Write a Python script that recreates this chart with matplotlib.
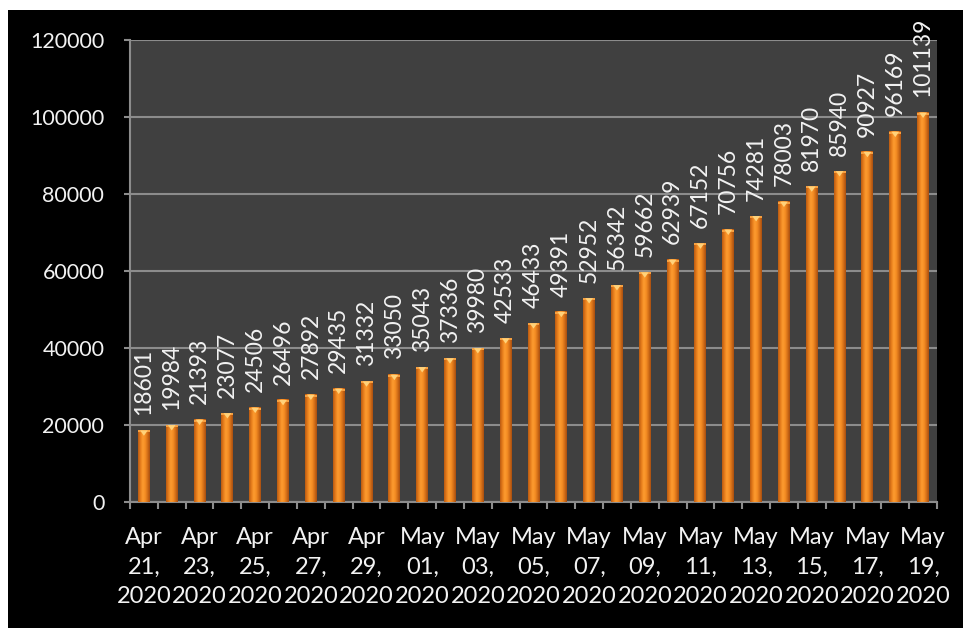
import matplotlib
matplotlib.use("Agg")
import matplotlib.pyplot as plt
import numpy as np
from matplotlib.colors import LinearSegmentedColormap
from matplotlib.patches import Rectangle, Polygon

plt.rcParams['font.family'] = ['Lato', 'DejaVu Sans']

# Daily cumulative totals, Apr 21 - May 19, 2020
dates = ["Apr 21, 2020", "Apr 22, 2020", "Apr 23, 2020", "Apr 24, 2020", "Apr 25, 2020",
         "Apr 26, 2020", "Apr 27, 2020", "Apr 28, 2020", "Apr 29, 2020", "Apr 30, 2020",
         "May 01, 2020", "May 02, 2020", "May 03, 2020", "May 04, 2020", "May 05, 2020",
         "May 06, 2020", "May 07, 2020", "May 08, 2020", "May 09, 2020", "May 10, 2020",
         "May 11, 2020", "May 12, 2020", "May 13, 2020", "May 14, 2020", "May 15, 2020",
         "May 16, 2020", "May 17, 2020", "May 18, 2020", "May 19, 2020"]
values = [18601, 19984, 21393, 23077, 24506, 26496, 27892, 29435, 31332, 33050,
          35043, 37336, 39980, 42533, 46433, 49391, 52952, 56342, 59662, 62939,
          67152, 70756, 74281, 78003, 81970, 85940, 90927, 96169, 101139]
y_ticks = [0, 20000, 40000, 60000, 80000, 100000, 120000]

W, H = 963, 628
fig = plt.figure(figsize=(W / 100, H / 100), dpi=100, facecolor="white")

# black panel behind the chart
fig.patches.append(Rectangle((8 / W, 0), 1, (H - 10) / H, transform=fig.transFigure,
                             facecolor="black", edgecolor="none", zorder=-10))

ax = fig.add_axes([130 / W, (H - 502) / H, (937 - 130) / W, (502 - 40) / H])
ax.set_facecolor("#404040")

grid_col = "#8c8c8c"
text_col = "#f2f2f2"

x = np.arange(len(values))
bar_w = 0.43

# cylinder-like shading across each bar
shade = LinearSegmentedColormap.from_list(
    "shade", ["#b95a12", "#e67c1c", "#fd9c30", "#f68e24", "#d46f18", "#a84f10"])
grad = np.linspace(0, 1, 64).reshape(1, -1)

for xi, v in zip(x, values):
    ax.imshow(grad, cmap=shade, aspect="auto", interpolation="bilinear",
              extent=[xi - bar_w / 2, xi + bar_w / 2, 0, v], zorder=3)
    cap_h = 1400
    ax.add_patch(Rectangle((xi - bar_w / 2, v - 500), bar_w, 500,
                           facecolor="#f7a040", edgecolor="none", zorder=3.5))
    ax.add_patch(Polygon([[xi - bar_w * 0.32, v], [xi + bar_w * 0.32, v], [xi, v - cap_h]],
                         closed=True, facecolor="#ffd27a", edgecolor="none", zorder=4))
    ax.annotate(f"{v}", xy=(xi, v), xytext=(0, 11), textcoords="offset points",
                rotation=90, ha="center", va="bottom", color=text_col, fontsize=16.5,
                zorder=5)

ax.set_xlim(-0.5, len(values) - 0.5)
ax.set_ylim(0, 120000)

# y axis
ax.set_yticks(y_ticks)
ax.set_yticklabels([str(t) for t in y_ticks])
ax.tick_params(axis="y", colors=grid_col, labelcolor=text_col, labelsize=15.5,
               length=4.5, width=1.5, pad=14)
ax.yaxis.grid(True, color=grid_col, linewidth=1.5, zorder=1)
ax.set_axisbelow(True)

# x axis: labels every second day, tick marks on category boundaries
label_idx = x[::2]
ax.set_xticks(label_idx)
ax.set_xticklabels([d.replace(" ", "\n") for d in np.array(dates)[::2]],
                   linespacing=1.5)
ax.set_xticks(np.arange(-0.5, len(values)), minor=True)
ax.tick_params(axis="x", which="major", length=0, labelcolor=text_col,
               labelsize=17, pad=18)
ax.tick_params(axis="x", which="minor", length=5, width=1.5, color=grid_col)

for side in ("top", "right"):
    ax.spines[side].set_visible(False)
for side in ("left", "bottom"):
    ax.spines[side].set_color(grid_col)
    ax.spines[side].set_linewidth(1.5)

fig.savefig("out.png", dpi=100, facecolor="white")
